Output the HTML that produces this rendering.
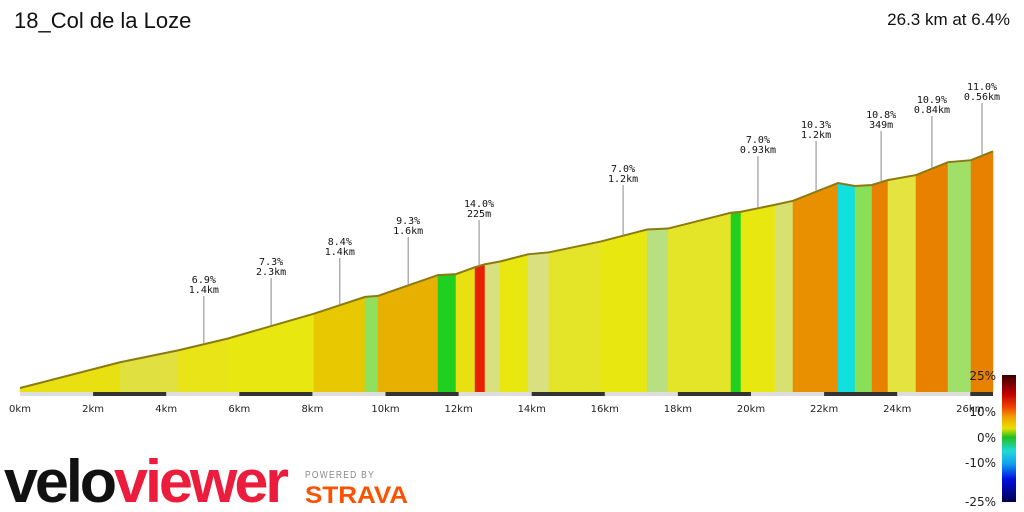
<!DOCTYPE html>
<html><head><meta charset="utf-8"><style>
html,body{margin:0;padding:0;background:#fff;width:1024px;height:512px;overflow:hidden}
svg{display:block}
</style></head><body>
<svg id="chart" width="1024" height="512" viewBox="0 0 1024 512" xmlns="http://www.w3.org/2000/svg">
<defs>
<linearGradient id="lg" x1="0" y1="0" x2="0" y2="1">
<stop offset="0" stop-color="#3a0000"/><stop offset="0.15" stop-color="#c00000"/><stop offset="0.25" stop-color="#f04000"/>
<stop offset="0.33" stop-color="#f0a000"/><stop offset="0.42" stop-color="#e8e000"/><stop offset="0.49" stop-color="#20c020"/>
<stop offset="0.6" stop-color="#20d8d8"/><stop offset="0.7" stop-color="#10a0f0"/><stop offset="0.82" stop-color="#0010e0"/>
<stop offset="1" stop-color="#000050"/></linearGradient>
</defs>
<text x="14" y="28" font-family="Liberation Sans, sans-serif" font-size="22" fill="#111">18_Col de la Loze</text>
<text x="1010" y="25" text-anchor="end" font-family="Liberation Sans, sans-serif" font-size="17" fill="#111">26.3 km at 6.4%</text>
<g id="segs"></g><g id="axis"></g><g id="ann"></g>
<g>
<rect x="1002" y="375" width="14" height="127" fill="url(#lg)"/>
<g font-family="DejaVu Sans, sans-serif" font-size="12" fill="#222" text-anchor="end">
<text x="996" y="380">25%</text>
<text x="996" y="416">10%</text>
<text x="996" y="442">0%</text>
<text x="996" y="467">-10%</text>
<text x="996" y="506">-25%</text>
</g></g>
<g>
<text x="4" y="502" font-family="Liberation Sans, sans-serif" font-weight="bold" font-size="60" textLength="282" lengthAdjust="spacingAndGlyphs" letter-spacing="-3"><tspan fill="#111">velo</tspan><tspan fill="#ec1c3c">viewer</tspan></text>
</g>
<g>
<text x="305" y="478" font-family="Liberation Sans, sans-serif" font-size="10" fill="#888" letter-spacing="1.5" textLength="70" lengthAdjust="spacingAndGlyphs">POWERED BY</text>
<text x="305" y="503" font-family="Liberation Sans, sans-serif" font-weight="bold" font-size="24" fill="#fc5200" textLength="103" lengthAdjust="spacingAndGlyphs">STRAVA</text>
</g>
</svg>
<script>
// Segment boundaries (km) and elevations (m) at those boundaries
const segKm=[0,2.736,4.323,5.691,8.044,9.439,9.795,11.436,11.929,12.449,12.722,13.133,13.899,14.473,15.896,17.155,17.729,19.453,19.726,20.657,21.149,22.380,22.845,23.311,23.748,24.514,25.390,26.019,26.621];
const segElev=[14,196,280,364,539,658,665,812,819,868,889,908,959,973,1050,1134,1141,1253,1260,1309,1337,1463,1442,1449,1484,1519,1610,1624,1687];
const segColors=["#e8e010","#e0e040","#e8e418","#e8e810","#e8c800","#90e060","#e8b000","#20d020","#e8e010","#e82000","#d8e080","#e8e810","#d8e080","#e4e428","#e8e810","#b8e080","#e4e428","#20d020","#e8e810","#d8e070","#e89000","#10e0e0","#88e058","#e88000","#e4e440","#e88000","#a0e068","#e88000"];
const tickKm=[0,2,4,6,8,10,12,14,16,18,20,22,24,26];
const tickLabels=["0km","2km","4km","6km","8km","10km","12km","14km","16km","18km","20km","22km","24km","26km"];
const annKm=[5.03,6.87,8.75,10.62,12.56,16.50,20.19,21.78,23.56,24.95,26.32];
const annGrad=["6.9%","7.3%","8.4%","9.3%","14.0%","7.0%","7.0%","10.3%","10.8%","10.9%","11.0%"];
const annLen=["1.4km","2.3km","1.4km","1.6km","225m","1.2km","0.93km","1.2km","349m","0.84km","0.56km"];
const annTop=[283,265,245,224,207,172,143,128,118,103,90];

const NS="http://www.w3.org/2000/svg";
const X0=20,PX=36.55,BASE=392,PY=0.1415;
const xs=k=>X0+k*PX, ys=e=>BASE-2-e*PY;
function mk(tag,attrs,parent){const el=document.createElementNS(NS,tag);for(const k in attrs)el.setAttribute(k,attrs[k]);parent.appendChild(el);return el;}
const segG=document.getElementById('segs');


for(let i=0;i<segColors.length;i++){
 const x1=xs(segKm[i]),x2=xs(segKm[i+1]);
 const p=mk('polygon',{points:`${x1},${BASE} ${x1},${ys(segElev[i])} ${x2},${ys(segElev[i+1])} ${x2},${BASE}`,fill:segColors[i],stroke:segColors[i],'stroke-width':0.5},segG);
 
 
}
let pts=segKm.slice(0,segElev.length).map((k,i)=>`${xs(k)},${ys(segElev[i])}`).join(' ');
const ol=mk('polyline',{points:pts,fill:'none',stroke:'#8a7a10','stroke-width':2},segG);


const ax=document.getElementById('axis');


const endKm=segKm[segElev.length-1];
const bar=mk('rect',{x:X0,y:BASE,width:xs(endKm)-X0,height:4,fill:'#ddd'},ax);


for(let i=0;i<tickKm.length;i++){
 if(i%2==1){const w=Math.min(tickKm[i]+2,endKm)-tickKm[i];
  const r=mk('rect',{x:xs(tickKm[i]),y:BASE,width:w*PX,height:4,fill:'#333'},ax);
  
  }
 const t=mk('text',{x:xs(tickKm[i]),y:BASE+20,'text-anchor':'middle','font-family':'DejaVu Sans, sans-serif','font-size':10,fill:'#222'},ax);
 t.textContent=tickLabels[i];
 
 
}
function elevAt(k){for(let i=0;i<segElev.length-1;i++){if(k<=segKm[i+1]){const f=(k-segKm[i])/(segKm[i+1]-segKm[i]);return segElev[i]+f*(segElev[i+1]-segElev[i]);}}return segElev[segElev.length-1];}
const an=document.getElementById('ann');


for(let i=0;i<annKm.length;i++){
 const x=xs(annKm[i]),ty=annTop[i];
 const g=mk('g',{},an);
 
 
 mk('line',{x1:x,y1:ty+13,x2:x,y2:ys(elevAt(annKm[i])),stroke:'#888','stroke-width':1},g);
 const t1=mk('text',{x:x,y:ty,'text-anchor':'middle','font-family':'DejaVu Sans Mono, monospace','font-size':10,fill:'#111'},g);t1.textContent=annGrad[i];
 const t2=mk('text',{x:x,y:ty+10,'text-anchor':'middle','font-family':'DejaVu Sans Mono, monospace','font-size':10,fill:'#111'},g);t2.textContent=annLen[i];
}
</script>
</body></html>
